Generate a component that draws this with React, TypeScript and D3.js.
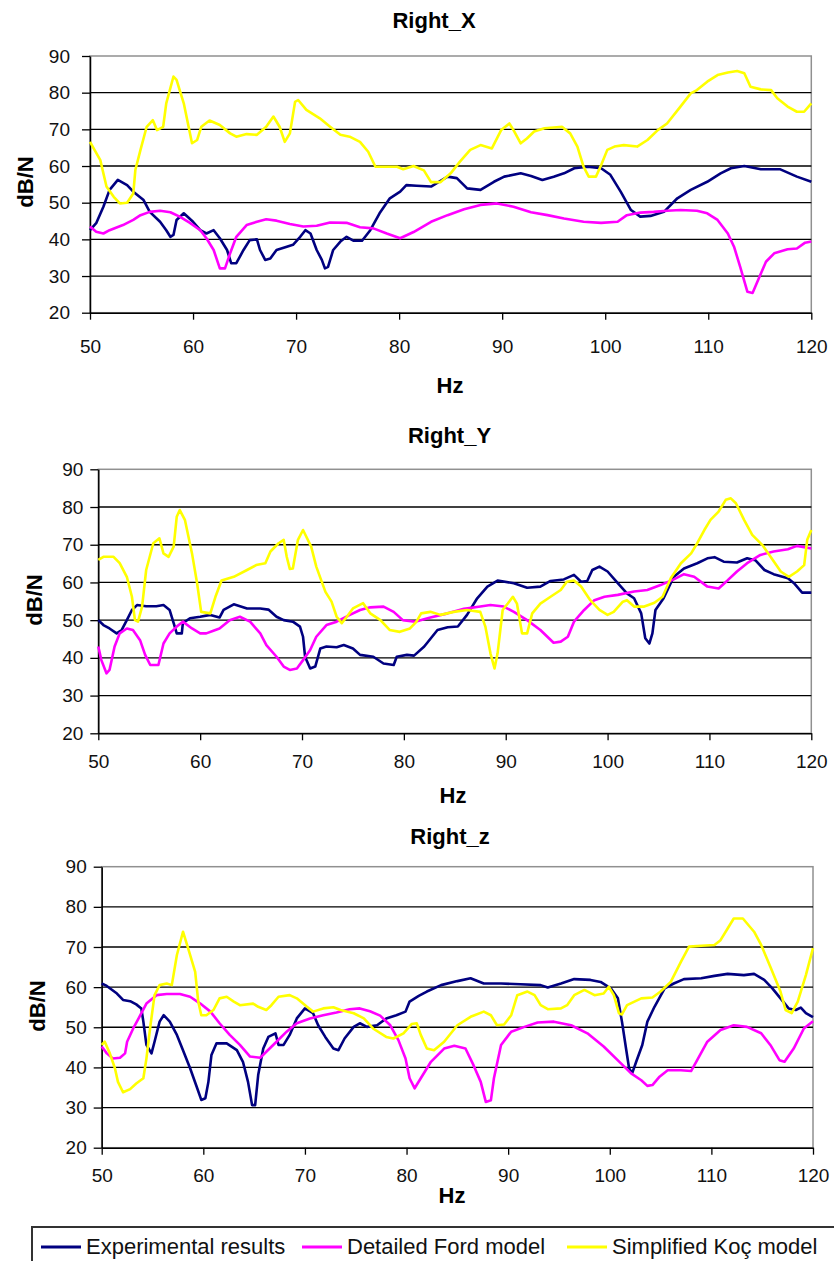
import { useEffect, useRef } from 'react';
import * as d3 from 'd3';

// x range, y range and tick values shared by the three panels
const hzTicks = [50, 60, 70, 80, 90, 100, 110, 120];
const dbTicks = [20, 30, 40, 50, 60, 70, 80, 90];
const seriesNames = ['Experimental results', 'Detailed Ford model', 'Simplified Koç model'];
const seriesColors = ['#000080', '#ff00ff', '#ffff00'];
const titles = ['Right_X', 'Right_Y', 'Right_z'];

// ---- Right_X ----
const xExp = [[50,42.5],[50.6,44.4],[51.3,48.9],[51.9,53.5],[52.7,56.2],[53.6,54.8],[54.2,53],[55.2,50.7],[55.8,47.5],[56.8,44.8],[57.4,42.5],[57.8,40.7],[58.1,41.2],[58.4,45.3],[59.1,47.1],[60,44.8],[60.7,42.5],[61.3,41.6],[62,42.5],[62.6,40.3],[63.3,37.1],[63.7,33.5],[64.2,33.5],[64.9,37.1],[65.5,39.8],[66.2,40],[66.5,37.1],[67,34.4],[67.5,34.8],[68.1,37.1],[69.1,38],[69.7,38.5],[70.4,40.7],[70.9,42.5],[71.4,41.6],[72,37.1],[72.5,34.4],[72.8,32.1],[73.1,32.5],[73.6,37.1],[74.3,39.4],[74.9,40.7],[75.6,39.6],[76.4,39.6],[77.2,42.5],[78.1,47.1],[79.1,51.2],[80.1,53],[80.7,54.8],[81.7,54.6],[83.1,54.4],[84.7,57.1],[85.6,56.7],[86.6,53.9],[87.9,53.5],[89.2,55.7],[90.2,57.1],[91.8,58],[92.8,57.3],[93.9,56.2],[95,57.1],[96,58],[97,59.4],[98.3,59.8],[99.6,59.4],[100.5,57.6],[101.5,53],[102.5,48],[103.4,46.2],[104.4,46.4],[105.7,47.5],[107,51.2],[108.3,53.5],[109.9,55.7],[111.2,58],[112.2,59.4],[113.5,60],[115.1,59.1],[117,59.1],[118.6,57.1],[120,55.7]];
const xFord = [[50,43.5],[50.6,42.1],[51.3,41.6],[51.9,42.5],[53.2,43.9],[54.2,45.3],[54.9,46.6],[55.8,47.5],[56.8,47.8],[57.8,47.4],[58.7,46.2],[59.7,44.5],[60.7,42.5],[61.3,40.3],[62,37.1],[62.6,32.1],[63.1,32.1],[63.6,36.2],[64.2,40.7],[65.2,43.9],[66.2,44.8],[67.1,45.5],[68.1,45.1],[69.4,44.2],[70.7,43.5],[72,43.7],[73.3,44.6],[74.9,44.5],[76.2,43.3],[77.5,43],[78.8,41.6],[80.1,40.3],[81.4,42],[83.1,44.8],[84.7,46.6],[86.3,48.2],[87.9,49.4],[89.5,49.8],[91.1,48.9],[92.8,47.4],[94.4,46.6],[96,45.7],[97.9,44.8],[99.6,44.5],[101.2,44.8],[102.1,46.6],[103.4,47.3],[104.7,47.5],[106,47.8],[107.3,48],[108.9,47.8],[109.9,47.1],[110.9,45.3],[111.9,41.6],[112.5,38],[113.1,32.5],[113.8,25.7],[114.3,25.4],[114.9,29.3],[115.6,33.9],[116.4,36.2],[117.7,37.3],[118.6,37.5],[119.4,39.1],[120,39.4]];
const xKoc = [[50,66.6],[51,61.6],[51.6,54.4],[52.3,51.6],[52.9,49.8],[53.6,50],[54.2,52.5],[54.4,58.9],[54.9,64.4],[55.5,70.7],[56.1,72.5],[56.5,69.8],[57.1,70.7],[57.4,77.1],[58.1,84.4],[58.4,83.5],[59.1,77.1],[59.9,66.2],[60.4,67.1],[60.8,70.7],[61.6,72.4],[62.6,71.2],[63.6,68.9],[64.2,68],[65.2,68.7],[66.2,68.5],[67.1,70.7],[67.8,73.5],[68.4,70.7],[68.9,66.6],[69.4,68.9],[69.9,77.5],[70.2,78],[71,75.3],[72.3,73],[73.3,70.7],[74.3,68.5],[75.2,68],[76.2,66.6],[77,63.9],[77.7,59.8],[78.8,59.8],[79.8,59.8],[80.4,59.1],[81.4,60],[82.4,58.8],[83.1,55.6],[84,55.6],[85,58],[85.9,61.2],[86.9,64.4],[87.9,65.7],[89,64.8],[89.9,69.8],[90.7,71.6],[91.1,69.8],[91.8,66.2],[92.4,67.5],[93.1,69.4],[94.1,70.3],[95,70.5],[95.8,70.7],[96.6,68.9],[97.3,65.3],[97.9,59.8],[98.4,57.1],[99.1,57.1],[99.6,60.2],[100.2,64.4],[100.9,65.3],[101.8,65.7],[103.1,65.3],[104.1,67.1],[105.1,69.8],[106,71.6],[107.3,76.2],[108.3,79.8],[108.9,80.7],[109.9,83],[110.9,84.8],[111.9,85.5],[112.8,85.9],[113.5,85.3],[114.1,81.6],[115.1,80.9],[116.1,80.7],[116.7,78.5],[117.7,76.2],[118.6,74.8],[119.3,74.8],[120,77.1]];

// ---- Right_Y ----
const yExp = [[50,50],[50.5,48.7],[51.1,47.8],[51.8,46.5],[52.3,47.4],[52.8,50],[53.3,52.7],[53.8,54],[54.7,53.7],[55.7,53.7],[56.4,54],[57,52.7],[57.4,49.2],[57.7,46.5],[58.2,46.5],[58.3,49.2],[59,50.5],[60,50.9],[61,51.4],[61.9,50.7],[62.3,52.7],[63.3,54.2],[64.6,53.1],[65.9,53.1],[66.7,52.8],[67.5,50.9],[68.2,50],[69.1,49.6],[69.8,48.3],[70.1,45.6],[70.3,40.3],[70.8,37.2],[71.3,37.7],[71.8,42.5],[72.4,43],[73.4,42.8],[74.1,43.4],[75,42.5],[75.7,40.8],[77,40.3],[78,38.5],[79,38.1],[79.3,40.3],[80.3,40.8],[81,40.6],[82,43],[83.3,47.4],[84.3,48.1],[85.3,48.3],[86.2,51.4],[87.2,55.8],[88.2,58.9],[89.2,60.5],[90.8,59.8],[92.1,58.6],[93.4,58.9],[94.4,60.4],[95.7,60.8],[96.7,62],[97.4,60.2],[98,60.4],[98.5,63.3],[99.2,64.2],[100,62.9],[101,59.8],[101.9,57.1],[102.6,55.8],[103.3,51.8],[103.7,45.2],[104.1,43.8],[104.4,46.5],[104.7,52.7],[105.5,55.8],[106.5,61.5],[107.5,63.7],[108.8,65.1],[109.8,66.4],[110.5,66.7],[111.4,65.5],[112.7,65.3],[113.7,66.4],[114.5,65.9],[115.4,63.3],[116.3,62.2],[117.7,61.1],[118.3,59.8],[119.1,57.3],[120,57.3]];
const yFord = [[50,43],[50.3,39.4],[50.8,35.9],[51.1,36.8],[51.6,43],[52.1,46.5],[52.8,47.8],[53.4,47.4],[54.1,44.7],[54.6,40.8],[55.1,38.1],[55.9,38.1],[56.4,43.8],[57,46.5],[57.7,48.3],[58.3,49.6],[59.2,47.8],[60,46.5],[60.6,46.5],[61.3,47.2],[61.9,47.8],[62.9,50],[63.9,50.9],[64.9,49.6],[65.9,46.5],[66.5,43.4],[67.5,40.3],[68.2,37.7],[68.8,36.8],[69.5,37.2],[70.1,39.4],[70.8,42.1],[71.4,45.6],[72.4,48.7],[73.4,49.6],[74.7,51.4],[75.7,52.7],[76.7,53.4],[78,53.6],[79,52.2],[79.9,50],[81.1,49.6],[82.6,50.7],[84.3,51.8],[85.9,53],[87.5,53.6],[88.5,54],[89.8,53.6],[90.8,52.2],[92.1,50],[93.4,47.4],[94.7,44],[95.4,44.3],[96.1,45.6],[96.7,49.6],[97.7,52.7],[98.7,55.3],[99.7,56.2],[101,56.7],[102.6,57.6],[103.9,58],[105.2,59.3],[106.5,60.8],[107.5,62.2],[108.5,61.5],[109.8,58.9],[110.9,58.4],[111.8,60.6],[112.7,62.9],[113.7,65.1],[115,67.3],[116.3,68.2],[117.7,68.8],[118.6,69.7],[120,69]];
const yKoc = [[50,66],[50.5,66.8],[51.5,66.8],[52.1,65.1],[52.8,61.5],[53.3,56.2],[53.6,50],[53.9,49.6],[54.3,53.6],[54.7,63.3],[55.4,70.4],[56,71.7],[56.4,67.7],[56.9,66.8],[57.4,69.5],[57.7,77.4],[58,79.2],[58.5,76.6],[59.2,67.7],[59.7,59.8],[60.1,52.2],[61,51.8],[61.5,56.2],[62.1,60.5],[63.3,61.5],[64.6,63.3],[65.5,64.6],[66.4,65.1],[66.9,68.2],[67.7,70.4],[68.2,71.3],[68.5,66.8],[68.8,63.6],[69.1,63.7],[69.6,71.3],[70.1,73.9],[70.9,69.5],[71.4,64.2],[72.3,57.5],[72.9,54.9],[73.4,50.9],[73.9,49.2],[74.4,50.9],[75,53.1],[76,54.5],[76.7,51.8],[77.7,50],[78.6,47.4],[79.6,46.9],[80.6,47.8],[81.2,49.5],[81.7,51.8],[82.6,52.2],[83.6,51.4],[84.9,52.2],[86.2,52.7],[87.5,52.2],[88,48.3],[88.5,41.2],[88.9,37.2],[89.2,41.2],[89.7,52.7],[90.2,54.4],[90.7,56.2],[91.1,54.4],[91.6,46.5],[92.1,46.5],[92.6,51.8],[93.4,54.4],[94.4,56.2],[95.4,58],[96,60.2],[96.7,60.5],[97.4,58.9],[98.3,55.3],[99.2,52.7],[100,51.4],[100.6,52.2],[101.5,54.9],[101.9,55.3],[102.6,53.6],[103.6,53.6],[104.6,54.6],[105.4,56.2],[106.2,61.1],[107.2,65.1],[108.2,67.7],[108.8,70.4],[109.5,73.9],[110.1,76.6],[110.9,78.8],[111.6,81.9],[112.1,82.3],[112.6,81],[113.4,76.6],[114.2,72.6],[115.2,69.9],[116,66.8],[117,62.9],[117.8,61.5],[118.6,62.9],[119.3,64.6],[119.6,71.3],[120,73.9]];

// ---- Right_z ----
const zExp = [[50,60.9],[50.5,60.3],[51.5,58.4],[52.1,56.8],[52.8,56.5],[53.4,55.7],[53.9,54.7],[54.1,51.4],[54.4,45.6],[54.9,43.5],[55.2,46.4],[55.7,51.4],[56.1,53],[56.7,51.4],[57.4,48.1],[58,44.3],[58.7,39.8],[59.4,34.8],[59.8,31.9],[60.2,32.3],[60.5,36.4],[60.8,43.1],[61.3,46],[62.3,46],[63.3,44.3],[63.9,41.4],[64.4,36.4],[64.8,30.6],[65.1,30.6],[65.4,38.1],[65.9,44.7],[66.4,47.6],[67.1,48.5],[67.4,45.6],[67.9,45.6],[68.5,48.1],[69.2,52.2],[70,54.7],[70.8,53.5],[71.3,50.5],[72,47.6],[72.8,44.7],[73.3,44.3],[73.9,47.2],[74.8,50.1],[75.4,51],[76.1,50.1],[77.1,50.5],[78,52.2],[79,53],[79.9,53.9],[80.3,56.4],[81.2,57.8],[82,58.9],[83.4,60.5],[85,61.5],[86.3,62.2],[87.6,60.9],[89.3,60.9],[91.2,60.7],[93.2,60.5],[93.9,59.9],[95.2,60.9],[96.5,62],[98.1,61.8],[99.1,61.3],[100.1,59.7],[100.8,57.2],[101.2,51.4],[101.6,44.7],[101.9,39.8],[102.2,38.5],[102.6,41.4],[103.2,45.6],[103.7,51.4],[104.4,55.1],[105.4,59.7],[106.3,60.9],[107.3,62],[109,62.2],[110.3,62.8],[111.6,63.3],[113.2,63],[114.2,63.3],[115.2,61.8],[116,59.7],[116.8,57.2],[117.6,54.7],[118.3,54.3],[118.8,54.9],[119.3,53.5],[120,52.5]];
const zFord = [[50,45.2],[50.5,43.5],[51.1,42.2],[51.8,42.4],[52.3,43.5],[52.5,46.4],[53.1,49.7],[53.8,53],[54.4,55.9],[55.4,58],[56.4,58.3],[57.7,58.3],[58.7,57.6],[59.7,55.9],[60.7,53.9],[61.6,51],[62.6,48.1],[63.6,45.6],[64.6,42.7],[65.6,42.4],[66.2,43.9],[67.2,46.4],[68.2,48.9],[69.2,51],[70.5,52.2],[71.8,53],[73.1,53.7],[74.4,54.5],[75.4,54.7],[76.4,54],[77.4,52.9],[78.4,50.5],[79.2,46.8],[79.9,42.2],[80.3,37.3],[80.8,34.8],[81.4,37.3],[82.4,41.4],[83.7,44.7],[84.7,45.4],[85.8,44.7],[86.6,40.5],[87.3,36.4],[87.8,31.4],[88.3,31.8],[88.6,37.3],[89.3,45.6],[90.3,48.9],[91.6,50.1],[92.9,51.2],[94.5,51.4],[96.2,50.5],[97.8,48.5],[99.4,45.2],[101.1,41],[102.1,38.5],[103.1,36.8],[103.7,35.4],[104.2,35.6],[104.9,37.7],[105.7,39.3],[107,39.3],[108,39.1],[108.6,41.8],[109.6,46.4],[110.9,49.3],[112.2,50.5],[113.5,50.1],[114.9,48.5],[115.8,45.6],[116.7,41.8],[117.2,41.4],[118.1,44.7],[119.1,49.7],[120,51.5]];
const zKoc = [[50,45.6],[50.3,46.4],[50.8,43.5],[51.3,39.8],[51.6,36.4],[52.1,33.8],[52.8,34.6],[53.4,36],[54.1,37.3],[54.4,42.2],[54.8,50.5],[55.2,58],[55.7,60.5],[56.4,60.9],[56.9,60.5],[57.4,68],[58,73.8],[58.5,69.7],[59.2,63.8],[59.5,56.4],[59.8,53],[60.3,53],[61,54.3],[61.6,57.2],[62.3,57.6],[63,56.4],[63.6,55.5],[64.9,55.9],[65.4,55.1],[66.2,54.3],[66.7,55.5],[67.4,57.6],[68.5,58],[69.2,57.2],[70.2,55.1],[70.8,53.9],[71.8,54.7],[72.8,55],[73.5,54.3],[74.8,53.5],[75.8,52.2],[76.7,49.7],[78,47.6],[78.7,47.2],[79.7,48.5],[80.5,50.8],[81,51],[81.4,48.1],[82,44.7],[82.7,44.3],[83.7,46.4],[85,50.5],[86.3,52.6],[87.6,53.9],[88.3,53],[88.9,50.5],[89.6,50.7],[90.3,53],[90.9,58],[91.9,58.9],[92.6,58],[93.2,55.5],[93.9,54.5],[95.2,54.7],[95.8,55.5],[96.5,58],[97.5,59.3],[98.5,58],[99.4,58.4],[99.9,60.1],[100.4,58],[100.9,53.5],[101.2,53.2],[101.7,55.5],[103.1,57.2],[104.2,57.4],[105,58.9],[106,61.3],[107,66.3],[107.8,70.1],[109,70.3],[110.3,70.5],[110.9,71.7],[111.6,74.6],[112.2,77.1],[113.1,77.1],[114.2,73.8],[114.9,70.5],[115.8,65.1],[116.8,58.9],[117.3,54.3],[117.9,53.5],[118.5,56.4],[119.3,63],[120,69.7]];

const panelSeries = [
  [xExp, xFord, xKoc],
  [yExp, yFord, yKoc],
  [zExp, zFord, zKoc],
];

// layout of each panel (pixels)
const panels = [
  { left: 90, right: 811.3, top: 56, bottom: 312.7, titleX: 434, titleY: 28, ylabX: 25, ylabY: 182, hzX: 450, hzY: 393, pad: 20 },
  { left: 98.3, right: 811.3, top: 469.3, bottom: 733.3, titleX: 449.5, titleY: 443, ylabX: 34, ylabY: 600, hzX: 453, hzY: 803, pad: 15 },
  { left: 101.7, right: 813, top: 866.7, bottom: 1147.7, titleX: 450, titleY: 844, ylabX: 37, ylabY: 1006, hzX: 452, hzY: 1203, pad: 15 },
];

const FONT = '"Liberation Sans", Arial, sans-serif';

function App() {
  const ref = useRef<SVGSVGElement>(null);

  useEffect(() => {
    const svg = d3.select(ref.current);
    svg.selectAll('*').remove();
    svg.append('rect').attr('width', 834).attr('height', 1261).attr('fill', '#fff');

    panels.forEach((p, pi) => {
      const x = d3.scaleLinear().domain([50, 120]).range([p.left, p.right]);
      const y = d3.scaleLinear().domain([20, 90]).range([p.bottom, p.top]);
      const g = svg.append('g');

      // gray plot border (top / right)
      g.append('rect')
        .attr('x', p.left).attr('y', p.top)
        .attr('width', p.right - p.left).attr('height', p.bottom - p.top)
        .attr('fill', 'none').attr('stroke', '#909090').attr('stroke-width', 1.5);

      // horizontal grid
      g.selectAll('line.grid')
        .data(dbTicks.filter((d) => d > 20 && d < 90))
        .enter()
        .append('line')
        .attr('x1', p.left).attr('x2', p.right)
        .attr('y1', (d) => y(d)).attr('y2', (d) => y(d))
        .attr('stroke', '#000').attr('stroke-width', 1.3);

      // axes
      const yAxis = g.append('g').attr('transform', `translate(${p.left},0)`)
        .call(d3.axisLeft(y).tickValues(dbTicks).tickSize(8).tickPadding(p.pad - 8).tickSizeOuter(0));
      const xAxis = g.append('g').attr('transform', `translate(0,${p.bottom})`)
        .call(d3.axisBottom(x).tickValues(hzTicks).tickSize(7).tickPadding(pi === 0 ? 20 : 14).tickSizeOuter(0));
      [yAxis, xAxis].forEach((a) => {
        a.attr('font-family', FONT).attr('font-size', 19);
        a.select('.domain').attr('stroke', '#000').attr('stroke-width', 1.5);
        a.selectAll('.tick line').attr('stroke', '#000').attr('stroke-width', 1.3);
        a.selectAll('.tick text').attr('fill', '#111');
      });

      // series
      const line = d3.line<number[]>().x((d) => x(d[0])).y((d) => y(d[1]));
      panelSeries[pi].forEach((s, si) => {
        g.append('path')
          .attr('d', line(s))
          .attr('fill', 'none')
          .attr('stroke', seriesColors[si])
          .attr('stroke-width', 2.6)
          .attr('stroke-linejoin', 'round');
      });

      // labels
      g.append('text').text(titles[pi])
        .attr('x', p.titleX).attr('y', p.titleY)
        .attr('text-anchor', 'middle').attr('font-family', FONT)
        .attr('font-weight', 'bold').attr('font-size', 22);
      g.append('text').text('Hz')
        .attr('x', p.hzX).attr('y', p.hzY)
        .attr('text-anchor', 'middle').attr('font-family', FONT)
        .attr('font-weight', 'bold').attr('font-size', 22);
      g.append('text').text('dB/N')
        .attr('transform', `translate(${p.ylabX + 8},${p.ylabY}) rotate(-90)`)
        .attr('text-anchor', 'middle').attr('font-family', FONT)
        .attr('font-weight', 'bold').attr('font-size', 22);
    });

    // legend
    const lg = svg.append('g');
    lg.append('rect')
      .attr('x', 32).attr('y', 1227).attr('width', 820).attr('height', 60)
      .attr('fill', 'none').attr('stroke', '#333').attr('stroke-width', 2);
    const legendX = [41, 302, 567];
    seriesNames.forEach((name, i) => {
      lg.append('line')
        .attr('x1', legendX[i]).attr('x2', legendX[i] + 40)
        .attr('y1', 1247).attr('y2', 1247)
        .attr('stroke', seriesColors[i]).attr('stroke-width', 3);
      lg.append('text').text(name)
        .attr('x', legendX[i] + 45).attr('y', 1254)
        .attr('font-family', FONT).attr('font-size', 22).attr('fill', '#111');
    });
  }, []);

  return (
    <svg ref={ref} width={834} height={1261} style={{ position: 'absolute', left: 0, top: 0 }} />
  );
}

export default App;
